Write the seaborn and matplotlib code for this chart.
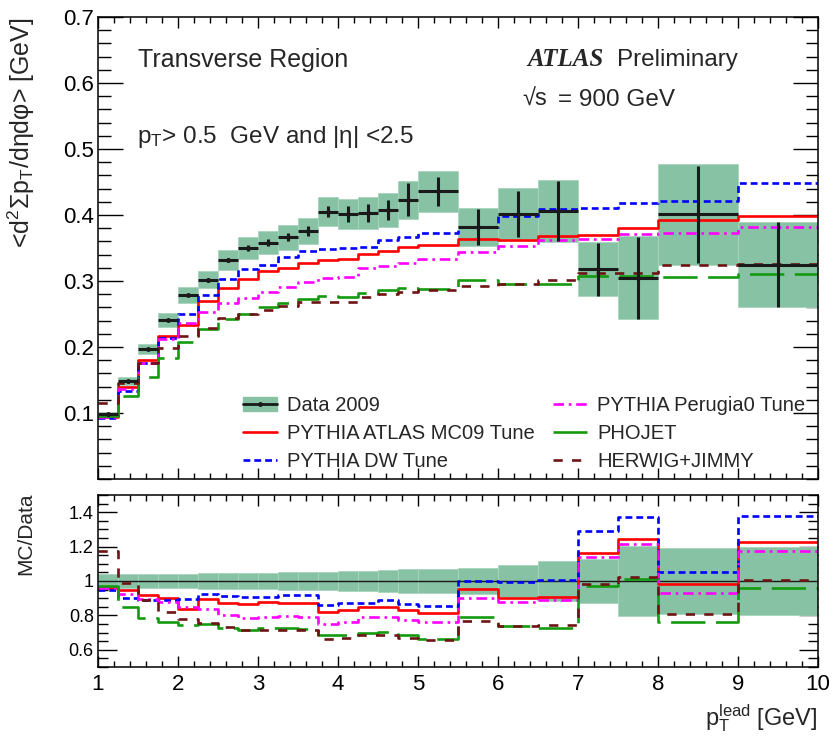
import numpy as np
import matplotlib
matplotlib.use("Agg")
import matplotlib.pyplot as plt
from matplotlib.patches import Patch
from matplotlib.lines import Line2D
from matplotlib.ticker import MultipleLocator
import seaborn as sns

# bin edges in leading track pT [GeV]
edges = [1.0, 1.25, 1.5, 1.75, 2.0, 2.25, 2.5, 2.75, 3.0, 3.25, 3.5, 3.75, 4.0,
         4.25, 4.5, 4.75, 5.0, 5.5, 6.0, 6.5, 7.0, 7.5, 8.0, 9.0, 10.0]

# data 2009 (mean sum pT density) with stat error and relative total uncertainty
data = [0.098, 0.148, 0.197, 0.241, 0.279, 0.302, 0.332, 0.350, 0.358, 0.366, 0.376, 0.405,
        0.402, 0.403, 0.408, 0.423, 0.436, 0.382, 0.402, 0.406, 0.318, 0.305, 0.401, 0.325]
stat = [0.002, 0.002, 0.002, 0.002, 0.002, 0.003, 0.003, 0.004, 0.005, 0.006, 0.008, 0.008,
        0.012, 0.013, 0.015, 0.025, 0.022, 0.027, 0.035, 0.045, 0.040, 0.062, 0.074, 0.065]
band_rel = [0.040, 0.040, 0.041, 0.042, 0.043, 0.044, 0.045, 0.046, 0.048, 0.050, 0.052, 0.054,
            0.057, 0.060, 0.063, 0.067, 0.072, 0.074, 0.095, 0.115, 0.130, 0.205, 0.190, 0.200]

# MC predictions
mc09 = [0.094, 0.140, 0.181, 0.217, 0.233, 0.270, 0.289, 0.303, 0.315, 0.320, 0.327, 0.332,
        0.334, 0.341, 0.346, 0.351, 0.355, 0.364, 0.362, 0.368, 0.370, 0.380, 0.393, 0.398]
dw = [0.093, 0.133, 0.175, 0.214, 0.250, 0.279, 0.303, 0.318, 0.325, 0.337, 0.346, 0.348,
      0.350, 0.352, 0.362, 0.366, 0.372, 0.382, 0.399, 0.409, 0.411, 0.418, 0.421, 0.448]
perugia0 = [0.094, 0.137, 0.176, 0.212, 0.237, 0.253, 0.267, 0.275, 0.283, 0.291, 0.298, 0.304,
            0.306, 0.319, 0.322, 0.327, 0.333, 0.344, 0.353, 0.362, 0.363, 0.371, 0.372, 0.382]
phojet = [0.095, 0.126, 0.155, 0.183, 0.207, 0.227, 0.242, 0.250, 0.261, 0.266, 0.272, 0.277,
          0.276, 0.282, 0.286, 0.289, 0.288, 0.301, 0.296, 0.296, 0.308, 0.308, 0.306, 0.311]
herwig = [0.115, 0.146, 0.175, 0.198, 0.217, 0.229, 0.244, 0.250, 0.256, 0.262, 0.268, 0.268,
          0.268, 0.276, 0.281, 0.283, 0.286, 0.293, 0.296, 0.302, 0.312, 0.312, 0.324, 0.326]

top_yticks = [0.1, 0.2, 0.3, 0.4, 0.5, 0.6, 0.7]
ratio_yticks = [0.6, 0.8, 1.0, 1.2, 1.4]
ratio_yticklabels = ["0.6", "0.8", "1", "1.2", "1.4"]

band_color = "#86c2a3"
mc_styles = [
    ("PYTHIA ATLAS MC09 Tune", mc09, "#ff0000", "-"),
    ("PYTHIA DW Tune", dw, "#0000ff", (0, (2.6, 1.5))),
    ("PYTHIA Perugia0 Tune", perugia0, "#ff00ff", (0, (4, 1.8, 1, 1.8))),
    ("PHOJET", phojet, "#149a10", (0, (13, 4))),
    ("HERWIG+JIMMY", herwig, "#6e1414", (0, (3.5, 3.5))),
]

sns.set_theme(style="ticks")
plt.rcParams["font.family"] = ["Liberation Sans", "DejaVu Sans"]
plt.rcParams["mathtext.fontset"] = "custom"
plt.rcParams["mathtext.rm"] = "Liberation Sans"
plt.rcParams["mathtext.it"] = "Liberation Sans:italic"
plt.rcParams["mathtext.bf"] = "Liberation Sans:bold"
plt.rcParams["axes.edgecolor"] = "black"
plt.rcParams["axes.linewidth"] = 1.1
plt.rcParams["xtick.color"] = "black"
plt.rcParams["ytick.color"] = "black"

edges = np.array(edges)
data = np.array(data)
lefts = edges[:-1]
widths = np.diff(edges)
centers = lefts + widths / 2
band = data * np.array(band_rel)

fig = plt.figure(figsize=(8.33, 7.41), dpi=100)
ax = fig.add_axes([0.1176, 0.3536, 0.8643, 0.6234])
rax = fig.add_axes([0.1176, 0.0999, 0.8643, 0.2321])


def draw_steps(a, vals, color, ls):
    y = list(vals) + [vals[-1]]
    sns.lineplot(x=edges, y=y, ax=a, color=color, linestyle=ls, lw=1.9,
                 drawstyle="steps-post", estimator=None, sort=False, legend=False)


# top panel
ax.bar(lefts, 2 * band, width=widths, bottom=data - band, align="edge",
       color=band_color, edgecolor="#a9d5be", linewidth=0.6, zorder=1)
for name, vals, color, ls in mc_styles:
    draw_steps(ax, vals, color, ls)
ax.errorbar(centers, data, xerr=widths / 2, yerr=stat, fmt="o", ms=2.5, color="k",
            elinewidth=2.2, capsize=0, zorder=5)

# ratio panel
rel = np.array(band_rel)
rax.bar(lefts, 2 * rel, width=widths, bottom=1 - rel, align="edge",
        color=band_color, edgecolor="#a9d5be", linewidth=0.6, zorder=1)
rax.axhline(1.0, color="k", lw=1.0, zorder=2)
for name, vals, color, ls in mc_styles:
    draw_steps(rax, np.array(vals) / data, color, ls)

# axes cosmetics
for a in (ax, rax):
    a.set_xlim(1, 10)
    a.xaxis.set_major_locator(MultipleLocator(1))
    a.xaxis.set_minor_locator(MultipleLocator(0.2))
    a.tick_params(which="both", direction="in", top=True, right=True, width=1.0)
    a.set_xlabel("")
    a.set_ylabel("")

ax.set_ylim(0, 0.7)
ax.set_yticks(top_yticks)
ax.yaxis.set_minor_locator(MultipleLocator(0.02))
ax.tick_params(axis="x", labelbottom=False)
ax.tick_params(axis="x", which="major", length=8)
ax.tick_params(axis="x", which="minor", length=4.5)
ax.tick_params(axis="y", which="major", length=18, labelsize=16, pad=3)
ax.tick_params(axis="y", which="minor", length=9)

rax.set_ylim(0.5, 1.5)
rax.set_yticks(ratio_yticks)
rax.set_yticklabels(ratio_yticklabels)
rax.yaxis.set_minor_locator(MultipleLocator(0.05))
rax.tick_params(axis="x", which="major", length=8, labelsize=16, pad=5)
rax.tick_params(axis="x", which="minor", length=4.5)
rax.tick_params(axis="y", which="major", length=14, labelsize=13, pad=3)
rax.tick_params(axis="y", which="minor", length=7)

# legend
handles = [(Patch(facecolor=band_color, edgecolor=band_color),
            Line2D([], [], color="k", lw=2, marker="o", ms=2.5))]
labels = ["Data 2009"]
for name, vals, color, ls in mc_styles:
    handles.append(Line2D([], [], color=color, linestyle=ls, lw=1.9))
    labels.append(name)
ax.legend(handles, labels, ncol=2, frameon=False, loc="upper left",
          bbox_to_anchor=(0.2014, 0.180), fontsize=14.5, handlelength=1.7,
          handletextpad=0.5, columnspacing=0.9, labelspacing=0.44,
          borderpad=0, borderaxespad=0)

# labels and texts
fig.text(0.026, 0.976, r"<d$^{2}$Σp$_{\mathrm{T}}$/dηdφ> [GeV]", rotation=90,
         ha="center", va="top", fontsize=18)
fig.text(0.031, 0.335, "MC/Data", rotation=90, ha="center", va="top", fontsize=15)
fig.text(0.982, 1 - 718 / 741, r"p$_{\mathrm{T}}^{\mathrm{lead}}$ [GeV]",
         ha="right", va="center", fontsize=17)
fig.text(138 / 833, 1 - 60 / 741, "Transverse Region", ha="left", va="center", fontsize=18)
fig.text(527 / 833, 1 - 60 / 741, "ATLAS", ha="left", va="center", fontsize=18,
         family="Liberation Serif", style="italic", weight="bold")
fig.text(617 / 833, 1 - 60 / 741, "Preliminary", ha="left", va="center", fontsize=17.5)
fig.text(522 / 833, 1 - 100 / 741, "√s", ha="left", va="center", fontsize=17)
fig.text(558 / 833, 1 - 100 / 741, "= 900 GeV", ha="left", va="center", fontsize=17.5)
fig.text(137 / 833, 1 - 137 / 741, r"p$_{\mathrm{T}}$> 0.5  GeV and |η| <2.5",
         ha="left", va="center", fontsize=17.5)

fig.savefig("out.png", dpi=100)
